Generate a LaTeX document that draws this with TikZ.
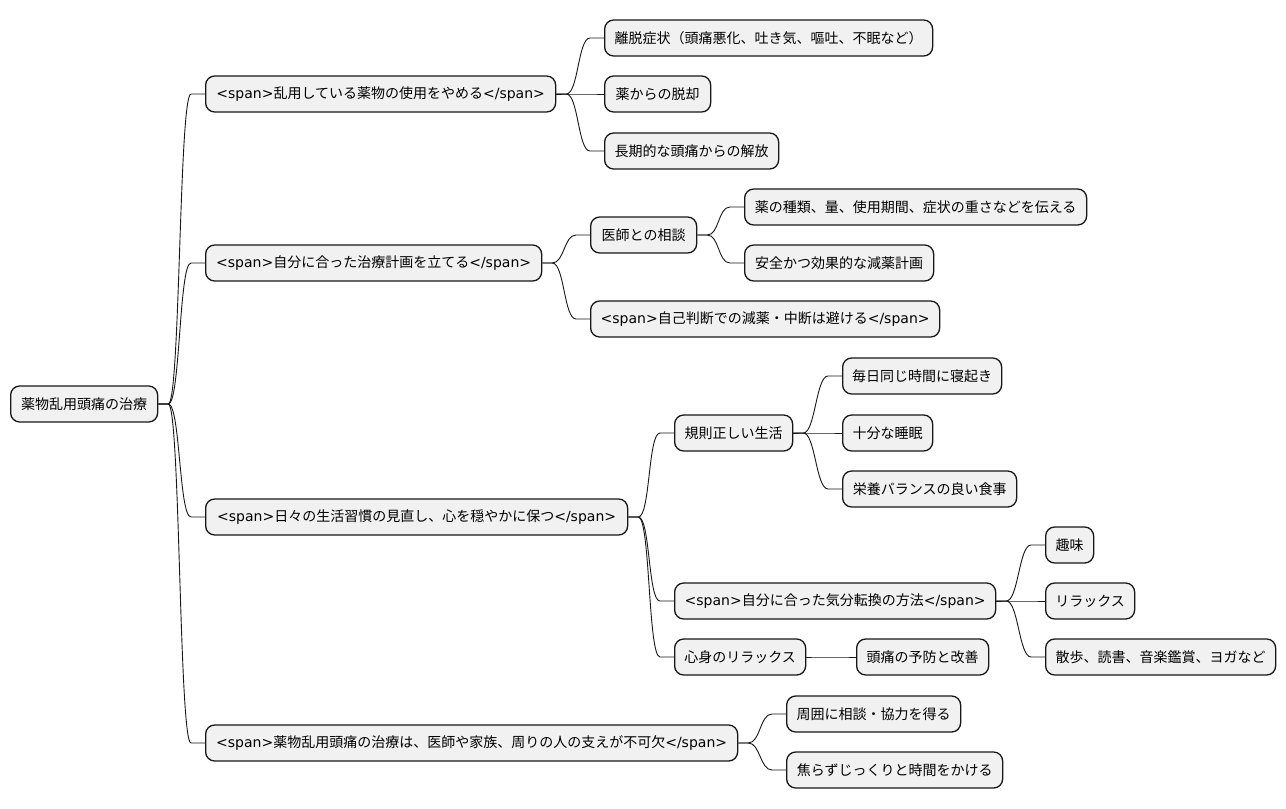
\documentclass[tikz,border=0pt]{standalone}
\usepackage{fontspec}
\setmainfont{Noto Sans CJK JP}
\newfontfamily\latfont{DejaVu Sans}
\usetikzlibrary{calc}
\newcommand{\tagopen}{{\latfont<span>}}
\newcommand{\tagclose}{{\latfont</span>}}
\definecolor{boxfill}{HTML}{F1F1F1}
\definecolor{boxline}{HTML}{181818}
\begin{document}
\begin{tikzpicture}[x=1pt,y=-1pt,
  mbox/.style={draw=boxline, line width=1.3pt, fill=boxfill, rounded corners=9pt,
    minimum height=36pt, inner sep=0pt, anchor=west, font=\fontsize{14}{16}\selectfont},
  conn/.style={draw=boxline, line width=0.9pt,
    to path={-- ++(10,0) .. controls +(12,0) and +(-12,0) .. ($(\tikztotarget)+(-14,0)$) -- (\tikztotarget)}}]
\useasboundingbox (0,0) rectangle (1286,809);
\fill[white] (0,0) rectangle (1286,809);
% nodes
\node[mbox, minimum width=147pt] (root) at (10,404) {薬物乱用頭痛の治療};
\node[mbox, minimum width=350pt] (a) at (205,94) {\tagopen 乱用している薬物の使用をやめる\tagclose};
\node[mbox, minimum width=336pt] (b) at (205,263) {\tagopen 自分に合った治療計画を立てる\tagclose};
\node[mbox, minimum width=422pt] (c) at (205,517) {\tagopen 日々の生活習慣の見直し、心を穏やかに保つ\tagclose};
\node[mbox, minimum width=532pt] (d) at (205,743) {\tagopen 薬物乱用頭痛の治療は、医師や家族、周りの人の支えが不可欠\tagclose};
\node[mbox, minimum width=328pt] (a1) at (604,38) {離脱症状（頭痛悪化、吐き気、嘔吐、不眠など）};
\node[mbox, minimum width=106pt] (a2) at (604,94) {薬からの脱却};
\node[mbox, minimum width=174pt] (a3) at (604,151) {長期的な頭痛からの解放};
\node[mbox, minimum width=106pt] (b1) at (590,235) {医師との相談};
\node[mbox, minimum width=342pt] (b1a) at (744,207) {薬の種類、量、使用期間、症状の重さなどを伝える};
\node[mbox, minimum width=189pt] (b1b) at (744,263) {安全かつ効果的な減薬計画};
\node[mbox, minimum width=349pt] (b2) at (590,319) {\tagopen 自己判断での減薬・中断は避ける\tagclose};
\node[mbox, minimum width=118pt] (c1) at (674,433) {規則正しい生活};
\node[mbox, minimum width=159pt] (c1a) at (842,376) {毎日同じ時間に寝起き};
\node[mbox, minimum width=90pt] (c1b) at (842,433) {十分な睡眠};
\node[mbox, minimum width=174pt] (c1c) at (842,489) {栄養バランスの良い食事};
\node[mbox, minimum width=321pt] (c2) at (674,601) {\tagopen 自分に合った気分転換の方法\tagclose};
\node[mbox, minimum width=48pt] (c2a) at (1045,545) {趣味};
\node[mbox, minimum width=89pt] (c2b) at (1045,601) {リラックス};
\node[mbox, minimum width=230pt] (c2c) at (1045,657) {散歩、読書、音楽鑑賞、ヨガなど};
\node[mbox, minimum width=131pt] (c3) at (674,657) {心身のリラックス};
\node[mbox, minimum width=132pt] (c3a) at (856,657) {頭痛の予防と改善};
\node[mbox, minimum width=174pt] (d1) at (786,714) {周囲に相談・協力を得る};
\node[mbox, minimum width=216pt] (d2) at (786,770) {焦らずじっくりと時間をかける};
% connectors
\foreach \p/\c in {root/a,root/b,root/c,root/d,a/a1,a/a2,a/a3,b/b1,b/b2,b1/b1a,b1/b1b,
  c/c1,c/c2,c/c3,c1/c1a,c1/c1b,c1/c1c,c2/c2a,c2/c2b,c2/c2c,c3/c3a,d/d1,d/d2}
  \draw[conn] (\p.east) to (\c.west);
\end{tikzpicture}
\end{document}
